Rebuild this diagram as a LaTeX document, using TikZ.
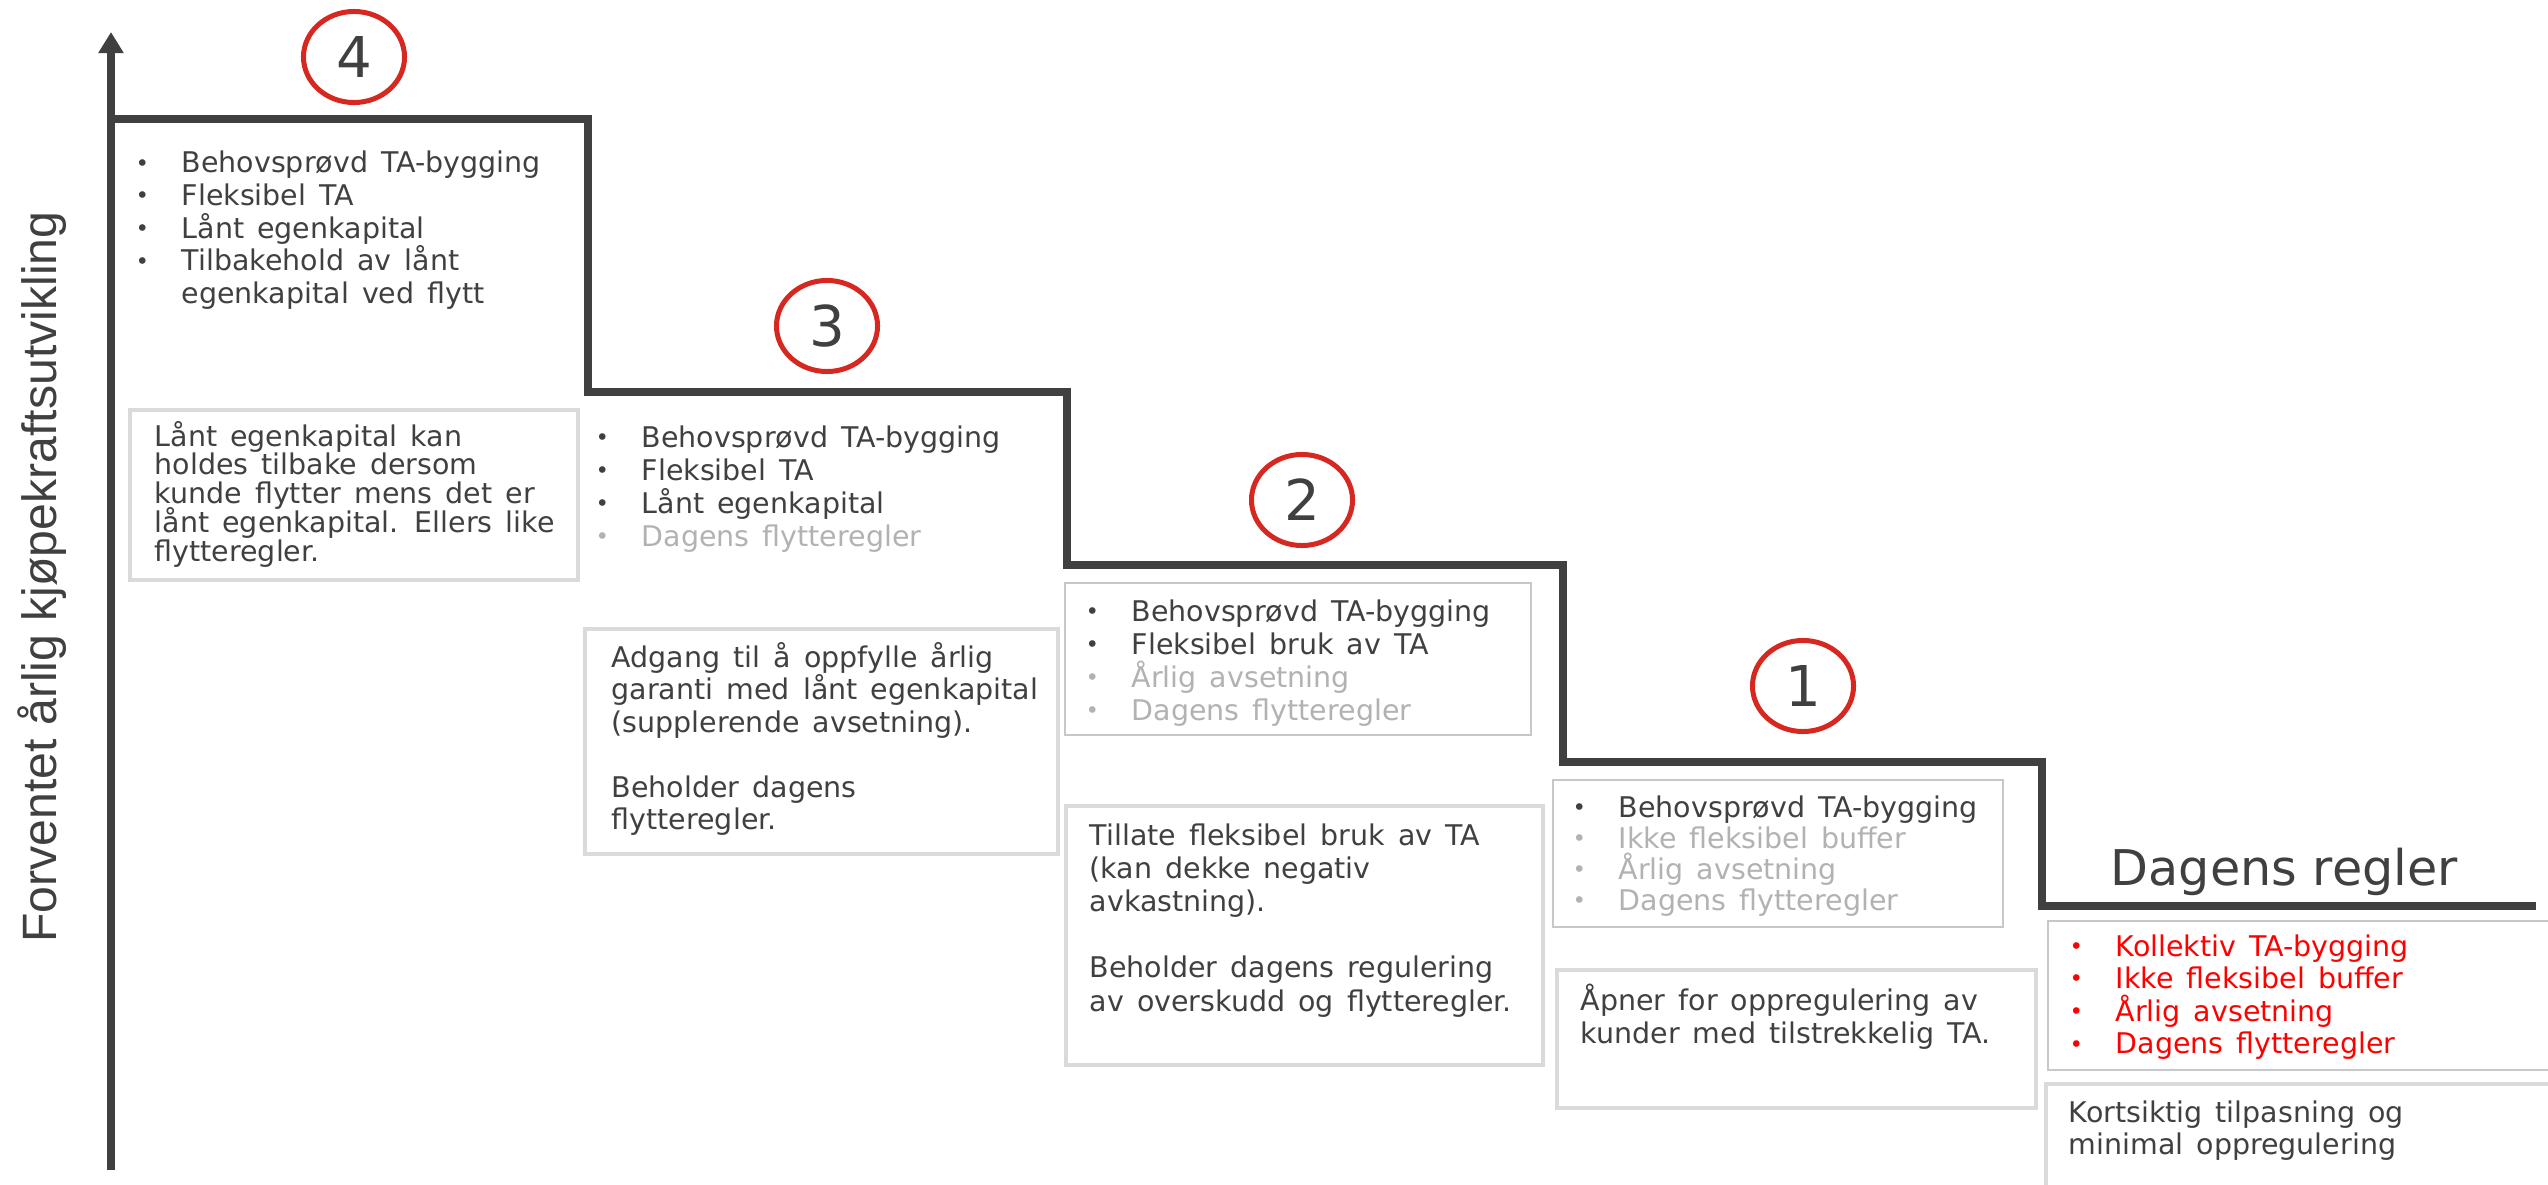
\documentclass[tikz,border=0pt]{standalone}
\usepackage{fontspec}
\setmainfont{DejaVu Sans}
\newfontfamily\axisfont{Liberation Sans}
\usetikzlibrary{arrows.meta,shapes.geometric}
\definecolor{dk}{RGB}{64,64,64}
\definecolor{lg}{RGB}{178,178,178}
\definecolor{rd}{RGB}{255,0,0}
\definecolor{cr}{RGB}{214,40,32}
\definecolor{bx}{RGB}{218,218,218}
\definecolor{bt}{RGB}{200,200,200}
\newcommand{\bi}[1]{\makebox[0.44cm][l]{\hspace*{-0.02cm}\raisebox{0.45pt}{\fontsize{6.5}{7}\selectfont •}}#1}
\newcommand{\hang}[1]{\hspace*{0.44cm}#1}
\newcommand{\tblock}[2]{\parbox[t]{7cm}{\fontsize{8.1}{#1}\selectfont\spaceskip=0.46em plus 0.1em\lineskiplimit=-100pt\raggedright #2}}
\begin{document}
\begin{tikzpicture}[x=0.01cm,y=-0.01cm,
  fatbox/.style={draw=bx, line width=0.04cm, inner sep=0pt, fill=white},
  thinbox/.style={draw=bt, line width=0.02cm, inner sep=0pt, fill=white},
  txt/.style={anchor=base west, inner sep=0pt, text=dk},
  num/.style={draw=cr, line width=0.05cm, ellipse, minimum width=1.01cm, minimum height=0.91cm, inner sep=0pt, text=dk, font=\fontsize{16}{16}\selectfont},
  stair/.style={draw=dk, line width=0.075cm},
  axis/.style={draw=dk, line width=0.075cm, -{Triangle[width=0.24cm,length=0.21cm]}}]
\useasboundingbox (0,0) rectangle (2548,1185);

% axis and staircase
\draw[axis] (111,1170) -- (111,32);
\draw[stair] (111,119) -- (588,119) -- (588,392) -- (1067,392) -- (1067,565) -- (1563,565) -- (1563,762) -- (2042,762) -- (2042,906) -- (2536,906);

\node[rotate=90, anchor=base, inner sep=0pt, text=dk, font=\axisfont\fontsize{13.7}{14}\selectfont] (ylabel) at (57,577) {Forventet årlig kjøpekraftsutvikling};

% circles
\node[num] (c4) at (354,57) {4};
\node[num] (c3) at (827,326) {3};
\node[num] (c2) at (1302,500) {2};
\node[num] (c1) at (1803,686) {1};

% boxes
\node[fatbox, minimum width=4.48cm, minimum height=1.70cm] (box4) at (354,495) {};
\node[fatbox, minimum width=4.73cm, minimum height=2.25cm] (box3) at (821.5,741.5) {};
\node[thinbox, minimum width=4.66cm, minimum height=1.52cm] (box2b) at (1298,659) {};
\node[fatbox, minimum width=4.77cm, minimum height=2.59cm] (box2) at (1304.5,935.5) {};
\node[thinbox, minimum width=4.50cm, minimum height=1.47cm] (box1b) at (1778,853.5) {};
\node[fatbox, minimum width=4.79cm, minimum height=1.38cm] (box1) at (1796.5,1039) {};
\node[thinbox, minimum width=5.11cm, minimum height=1.49cm] (boxDb) at (2303.5,995.5) {};
\node[fatbox, minimum width=5.12cm, minimum height=1.24cm] (boxK) at (2302,1146) {};

% texts
\node[txt] (t4b) at (137,173) {\tblock{9.25pt}{\bi{Behovsprøvd TA-bygging}\\\bi{Fleksibel TA}\\\bi{Lånt egenkapital}\\\bi{Tilbakehold av lånt}\\\hang{egenkapital ved flytt}}};
\node[txt] (t4) at (154,446) {\tblock{8.2pt}{Lånt egenkapital kan\\holdes tilbake dersom\\kunde flytter mens det er\\lånt egenkapital. Ellers like\\flytteregler.}};

\node[txt] (t3b) at (597,447) {\tblock{9.39pt}{\bi{Behovsprøvd TA-bygging}\\\bi{Fleksibel TA}\\\bi{Lånt egenkapital}\\\textcolor{lg}{\bi{Dagens flytteregler}}}};
\node[txt] (t3) at (611,667) {\tblock{9.25pt}{Adgang til å oppfylle årlig\\garanti med lånt egenkapital\\(supplerende avsetning).\\~\\Beholder dagens\\flytteregler.}};

\node[txt] (t2b) at (1087,621) {\tblock{9.39pt}{\bi{Behovsprøvd TA-bygging}\\\bi{Fleksibel bruk av TA}\\\textcolor{lg}{\bi{Årlig avsetning}}\\\textcolor{lg}{\bi{Dagens flytteregler}}}};
\node[txt] (t2) at (1089,845) {\tblock{9.45pt}{Tillate fleksibel bruk av TA\\(kan dekke negativ\\avkastning).\\~\\Beholder dagens regulering\\av overskudd og flytteregler.}};

\node[txt] (t1b) at (1574,817) {\tblock{8.82pt}{\bi{Behovsprøvd TA-bygging}\\\textcolor{lg}{\bi{Ikke fleksibel buffer}}\\\textcolor{lg}{\bi{Årlig avsetning}}\\\textcolor{lg}{\bi{Dagens flytteregler}}}};
\node[txt] (t1) at (1580,1010) {\tblock{9.39pt}{Åpner for oppregulering av\\kunder med tilstrekkelig TA.}};

\node[txt, anchor=base west, font=\fontsize{14}{15}\selectfont] (dr) at (2110,885) {Dagens regler};
\node[txt, text=rd] (tDb) at (2071,956) {\tblock{9.25pt}{\bi{Kollektiv TA-bygging}\\\bi{Ikke fleksibel buffer}\\\bi{Årlig avsetning}\\\bi{Dagens flytteregler}}};
\node[txt] (tK) at (2068,1122) {\tblock{9.1pt}{Kortsiktig tilpasning og\\minimal oppregulering}};
\end{tikzpicture}
\end{document}
